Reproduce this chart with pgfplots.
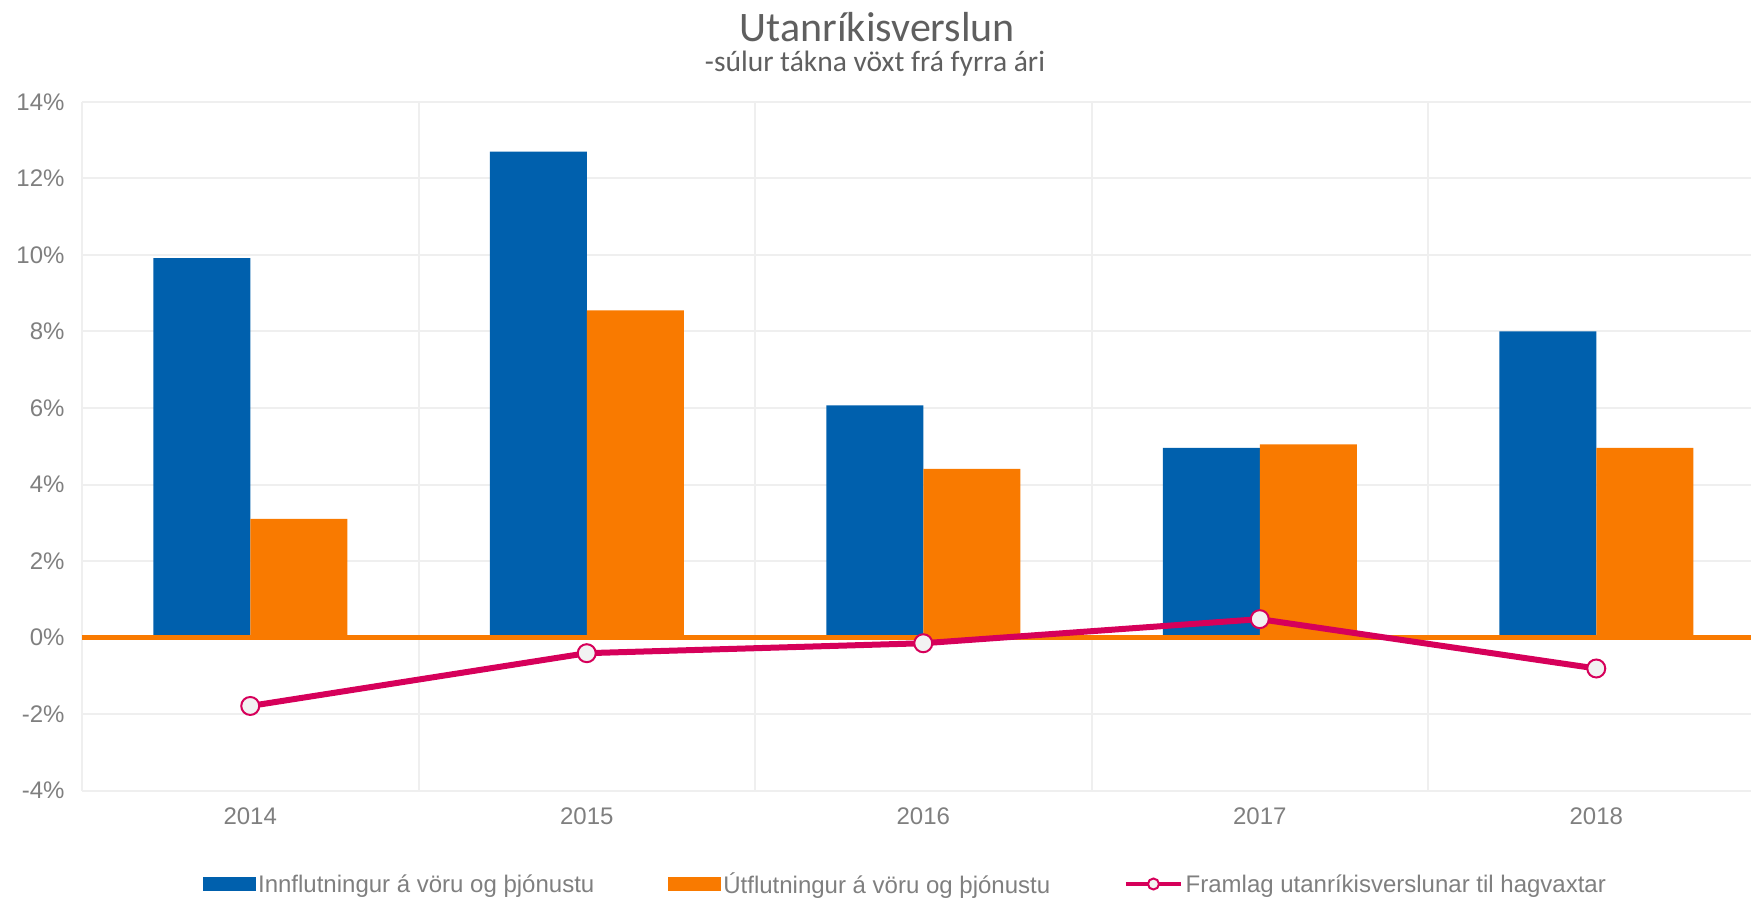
\documentclass[border=0pt]{standalone}
\usepackage{pgfplots}
\pgfplotsset{compat=1.18}
\usepackage{fontspec}
\setmainfont{Liberation Sans}
\newfontfamily\calib{Carlito}
\definecolor{cblue}{HTML}{0060AD}
\definecolor{corange}{HTML}{F97A00}
\definecolor{cpink}{HTML}{D6005A}
\definecolor{cgrid}{HTML}{EFEFEF}
\definecolor{ctext}{HTML}{7F7F7F}
\definecolor{ctitle}{HTML}{5F5F5F}
\definecolor{cmark}{HTML}{F2F2F2}
\begin{document}
\begin{tikzpicture}[x=1pt,y=1pt]
\useasboundingbox (0,0) rectangle (1751,898);
\node[anchor=base, font=\calib\fontsize{42}{50}\selectfont, text=ctitle, inner sep=0pt] at (877.5,856.3) {Utanríkisverslun};
\node[anchor=base, font=\calib\fontsize{29.5}{35}\selectfont, text=ctitle, inner sep=0pt] at (875,826.5) {-súlur tákna vöxt frá fyrra ári};
\begin{axis}[
  at={(82pt,107.5pt)}, anchor=south west, scale only axis,
  width=1669pt, height=688.5pt,
  xmin=-0.5, xmax=4.46, ymin=-4, ymax=14,
  axis line style={draw=none},
  xtick={0,1,2,3,4}, xticklabels={2014,2015,2016,2017,2018},
  minor xtick={-0.5,0.5,1.5,2.5,3.5},
  xminorgrids=true, ymajorgrids=true,
  ytick={-4,-2,0,2,4,6,8,10,12,14},
  yticklabels={-4\%,-2\%,0\%,2\%,4\%,6\%,8\%,10\%,12\%,14\%},
  major tick length=0pt, minor tick length=0pt,
  grid style={cgrid, line width=2pt},
  minor grid style={cgrid, line width=2pt},
  tick label style={font=\fontsize{24}{28}\selectfont, text=ctext},
  yticklabel style={xshift=-14pt},
  xticklabel style={yshift=-14pt},
  legend style={at={(0.4934,-0.1358)}, anchor=center, draw=none, fill=none,
    legend columns=3, font=\fontsize{24}{28}\selectfont,
    /tikz/every even column/.append style={column sep=71pt},
    inner sep=0pt, nodes={inner sep=2.5pt, text=ctext}, cells={anchor=west}},
]
\addplot[ybar, bar width=97pt, bar shift=-48.5pt, fill=cblue, draw=none,
  legend image code/.code={\fill[cblue] (0pt,-7pt) rectangle (53pt,7pt);}]
  coordinates {(0,9.92) (1,12.70) (2,6.07) (3,4.96) (4,8.00)};
\addlegendentry{Innflutningur á vöru og þjónustu}
\addplot[ybar, bar width=97pt, bar shift=48.5pt, fill=corange, draw=none,
  legend image code/.code={\fill[corange] (0pt,-7pt) rectangle (53pt,7pt);}]
  coordinates {(0,3.10) (1,8.55) (2,4.41) (3,5.05) (4,4.96)};
\addlegendentry{Útflutningur á vöru og þjónustu}
\addplot[corange, line width=5pt, forget plot] coordinates {(-0.5,0) (4.46,0)};
\addplot[cpink, line width=6pt, mark=*, mark size=9pt,
  mark options={fill=cmark, draw=cpink, line width=2pt},
  legend image code/.code={
    \draw[cpink, line width=4.5pt] (0pt,0pt) -- (55pt,0pt);
    \draw[cpink, fill=cmark, line width=2pt] (27.5pt,0pt) circle (5.5pt);}]
  coordinates {(0,-1.79) (1,-0.41) (2,-0.15) (3,0.48) (4,-0.81)};
\addlegendentry{Framlag utanríkisverslunar til hagvaxtar}
\end{axis}
\end{tikzpicture}
\end{document}
